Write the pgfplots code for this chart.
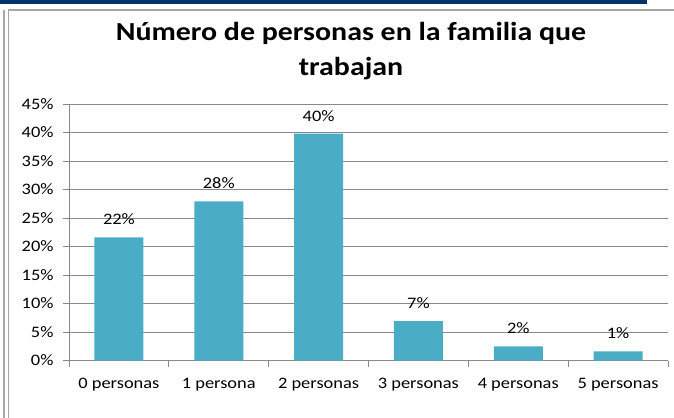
\documentclass[border=0pt]{standalone}
\usepackage{fontspec}
\setmainfont{Carlito}[FakeStretch=1.15]
\usepackage{pgfplots}
\pgfplotsset{compat=1.18}
\definecolor{barc}{HTML}{4BACC6}
\definecolor{navy}{RGB}{0,51,102}
\definecolor{gridc}{HTML}{888888}
\definecolor{framec}{HTML}{A6A6A6}
\begin{document}
\begin{tikzpicture}
\path[use as bounding box] (0,0) rectangle (674bp,418bp);
\fill[navy] (0,413.5bp) rectangle (647bp,418bp);
\draw[framec,line width=1.6bp] (3.8bp,0) -- (3.8bp,408bp);
\draw[framec,line width=1.3bp] (8.5bp,0) -- (8.5bp,408bp) -- (674bp,408bp);
\node[font=\bfseries\fontsize{26bp}{31bp}\selectfont,anchor=base] at (351bp,377bp) {Número de personas en la familia que};
\node[font=\bfseries\fontsize{26bp}{31bp}\selectfont,anchor=base] at (351bp,342.5bp) {trabajan};
\begin{axis}[
  at={(69bp,57.5bp)}, anchor=south west,
  scale only axis, width=599bp, height=256.5bp,
  xmin=-0.5, xmax=5.5, ymin=0, ymax=45,
  axis x line*=bottom, axis y line*=left,
  axis line style={gridc, line width=0.8bp},
  xtick={-0.5,0.5,...,5.5},
  xticklabels={},
  extra x ticks={0,...,5},
  extra x tick labels={0 personas,1 persona,2 personas,3 personas,4 personas,5 personas},
  extra x tick style={major tick length=0pt, grid=none},
  ytick={0,5,...,45},
  yticklabels={0\%,5\%,10\%,15\%,20\%,25\%,30\%,35\%,40\%,45\%},
  tick align=outside,
  major tick length=6bp,
  tick style={gridc, line width=0.8bp},
  ymajorgrids, grid style={gridc, line width=0.8bp},
  ticklabel style={font=\fontsize{16bp}{19bp}\selectfont, text=black},
  xticklabel style={yshift=-14bp},
  yticklabel style={xshift=-6bp},
  ybar, bar width=49bp,
  nodes near coords,
  point meta=explicit symbolic,
  every node near coord/.append style={font=\fontsize{16bp}{19bp}\selectfont, anchor=base, yshift=12.5bp},
]
\addplot[fill=barc, draw=none] table[x=x, y=y, meta=lab] {
x y lab
0 21.6 22\%
1 27.9 28\%
2 39.8 40\%
3 6.9 7\%
4 2.5 2\%
5 1.6 1\%
};
\end{axis}
\end{tikzpicture}
\end{document}
